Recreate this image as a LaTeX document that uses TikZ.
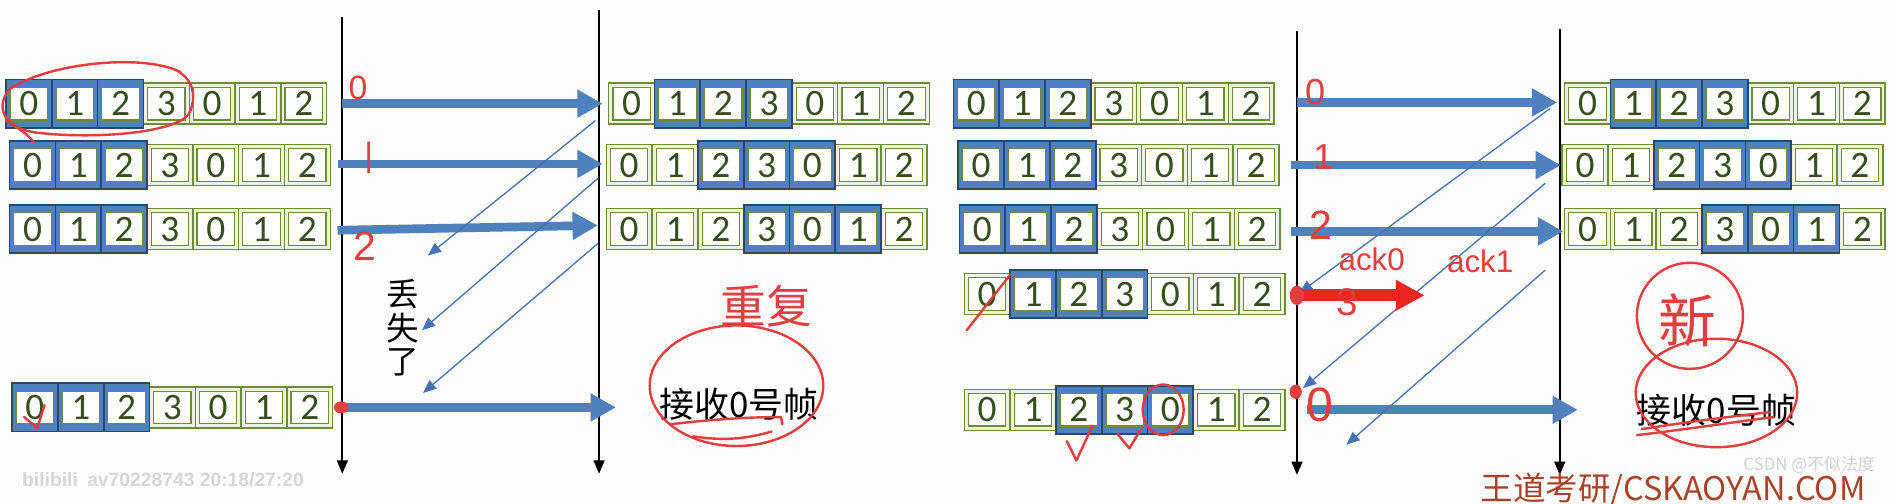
\documentclass[tikz,border=0pt]{standalone}
\usepackage{fontspec}
\setmainfont{Carlito}
\newfontfamily\cjk{Noto Sans CJK SC}
\newfontfamily\arialf{Liberation Sans}
\usetikzlibrary{arrows.meta}
\definecolor{winfill}{RGB}{79,129,189}
\definecolor{winborder}{RGB}{40,72,112}
\definecolor{cellfill}{RGB}{236,242,222}
\definecolor{olive}{RGB}{110,140,55}
\definecolor{digitc}{RGB}{55,78,28}
\definecolor{arrowblue}{RGB}{79,129,189}
\definecolor{ackblue}{RGB}{70,115,180}
\definecolor{penred}{RGB}{226,62,62}
\definecolor{bigred}{RGB}{232,40,32}
\definecolor{wmred}{RGB}{168,66,40}
\definecolor{wmgrey}{RGB}{214,214,214}
\definecolor{bgc}{RGB}{252,252,252}
\newcommand{\framerow}[4]{%
  \foreach \i in {0,...,6}{\filldraw[cellout] ({#2+38*\i},{#3-17}) rectangle +(38,34);}
  \foreach \j in {0,1,2}{\filldraw[winbox] ({#2+38*(#4+\j)},{#3-20}) rectangle +(38,40);}
  \foreach \i in {0,...,6}{\pgfmathtruncatemacro{\dg}{mod(\i,4)}\node[cellin] (#1-\i) at ({#2+38*\i+19},#3) {\dg};}
}
\begin{document}
\begin{tikzpicture}[x=0.5pt,y=-0.5pt,
  cellout/.style={fill=cellfill,draw=olive,line width=0.6pt},
  winbox/.style={fill=winfill,draw=winborder,line width=0.7pt},
  cellin/.style={draw=olive,fill=white,line width=0.5pt,minimum width=15.5pt,minimum height=13.5pt,inner sep=0pt,font=\fontsize{15.5}{15.5}\selectfont,text=digitc},
  timeline/.style={black,line width=0.7pt,-{Triangle[length=5.5pt,width=4.5pt]}},
  bigarrow/.style={arrowblue,line width=3.6pt,-{Triangle[length=10.5pt,width=11pt]}},
  ackarrow/.style={ackblue,line width=0.55pt,-{Triangle[length=5.5pt,width=4.5pt]}},
  redarrow/.style={bigred,line width=5pt,-{Triangle[length=12pt,width=12pt]}},
  pen/.style={penred,line width=1pt,line cap=round,line join=round},
  pentext/.style={text=penred,inner sep=0pt},
  cjktext/.style={font=\cjk\fontsize{14.5}{16}\selectfont,text=black,inner sep=0pt}]
\useasboundingbox (0,0) rectangle (1568,418);
\fill[bgc] (0,0) rectangle (1568,418);

% time lines
\coordinate (At) at (284,14);  \coordinate (Ab) at (284,393);
\coordinate (Bt) at (497,8);   \coordinate (Bb) at (497,393);
\coordinate (Ct) at (1076,26); \coordinate (Cb) at (1076,394);
\coordinate (Dt) at (1294,24); \coordinate (Db) at (1294,394);
\draw[timeline] (At) -- (Ab);
\draw[timeline] (Bt) -- (Bb);
\draw[timeline] (Ct) -- (Cb);
\draw[timeline] (Dt) -- (Db);

% frames
\framerow{LS1}{5}{86}{0}
\framerow{LS2}{8}{137}{0}
\framerow{LS3}{8}{190}{0}
\framerow{LS4}{10}{338}{0}
\framerow{LR1}{505}{86}{1}
\framerow{LR2}{503}{137}{2}
\framerow{LR3}{503}{190}{3}
\framerow{RS1}{791}{86}{0}
\framerow{RS2}{795}{137}{0}
\framerow{RS3}{796}{190}{0}
\framerow{RS4}{800}{244}{1}
\framerow{RS5}{800}{340}{2}
\framerow{RR1}{1298}{86}{1}
\framerow{RR2}{1296}{137}{2}
\framerow{RR3}{1298}{190}{3}

% left panel arrows
\coordinate (fL0s) at (284,86);  \coordinate (fL0e) at (500,86);
\coordinate (fL1s) at (280,136); \coordinate (fL1e) at (500,136);
\coordinate (fL2s) at (280,191); \coordinate (fL2e) at (496,187);
\coordinate (fL3s) at (287,338); \coordinate (fL3e) at (511,338);
\draw[bigarrow] (fL0s) -- (fL0e);
\draw[bigarrow] (fL1s) -- (fL1e);
\draw[bigarrow] (fL2s) -- (fL2e);
\draw[bigarrow] (fL3s) -- (fL3e);
\coordinate (aL0s) at (494,100); \coordinate (aL0e) at (355,212);
\coordinate (aL1s) at (496,148); \coordinate (aL1e) at (350,274);
\coordinate (aL2s) at (496,202); \coordinate (aL2e) at (351,326);
\draw[ackarrow] (aL0s) -- (aL0e);
\draw[ackarrow] (aL1s) -- (aL1e);
\draw[ackarrow] (aL2s) -- (aL2e);

% right panel arrows
\coordinate (fR0s) at (1076,85);  \coordinate (fR0e) at (1292,85);
\coordinate (fR1s) at (1071,137); \coordinate (fR1e) at (1295,137);
\coordinate (fR2s) at (1071,192); \coordinate (fR2e) at (1297,192);
\coordinate (fR3s) at (1084,340); \coordinate (fR3e) at (1309,340);
\draw[bigarrow] (fR0s) -- (fR0e);
\draw[bigarrow] (fR1s) -- (fR1e);
\draw[bigarrow] (fR2s) -- (fR2e);
\draw[bigarrow] (fR3s) -- (fR3e);
\coordinate (aR0s) at (1286,90);  \coordinate (aR0e) at (1078,243);
\coordinate (aR1s) at (1282,152); \coordinate (aR1e) at (1081,322);
\coordinate (aR2s) at (1282,224); \coordinate (aR2e) at (1117,369);
\draw[ackarrow] (aR0s) -- (aR0e);
\draw[ackarrow] (aR1s) -- (aR1e);
\draw[ackarrow] (aR2s) -- (aR2e);
\coordinate (rRs) at (1073,245); \coordinate (rRe) at (1182,245);
\draw[redarrow] (rRs) -- (rRe);

% printed texts
\node[cjktext,font=\cjk\fontsize{13.5}{13.8}\selectfont,align=center] (lost) at (334,272) {丢\\失\\了};
\node[cjktext] (recvL) at (613,335) {接收0号帧};
\node[cjktext] (recvR) at (1424,340) {接收0号帧};

% handwritten annotations, left panel
\draw[pen] (150,60) .. controls (120,44) and (40,52) .. (8,74)
  .. controls (-4,88) and (2,106) .. (30,110)
  .. controls (80,116) and (152,110) .. (158,92)
  .. controls (163,78) and (160,66) .. (146,58);
\draw[pen] (5,100) .. controls (14,106) and (22,110) .. (28,118);
\node[pentext,font=\arialf\fontsize{14}{14}\selectfont] (h0L) at (297,73) {0};
\node[pentext,font=\arialf\fontsize{14}{14}\selectfont] (h1L) at (306,131) {|};
\node[pentext,font=\arialf\fontsize{17}{17}\selectfont] (h2L) at (303,204) {2};
\draw[pen] (20,346) -- (31,355) -- (37,336);
\fill[penred] (283,338) ellipse (6 and 5);
\node[pentext,font=\cjk\fontsize{19}{19}\selectfont] (hL) at (636,254) {重复};
\draw[pen] (611,320) ellipse (72 and 50);
\draw[pen] (556,352) .. controls (590,348) and (620,346) .. (648,346) -- (649,352);
\draw[pen] (575,362) .. controls (600,366) and (620,364) .. (640,358);

% handwritten annotations, right panel
\node[pentext,font=\arialf\fontsize{15}{15}\selectfont] (h0R) at (1091,76) {0};
\node[pentext,font=\arialf\fontsize{15}{15}\selectfont] (h1R) at (1098,130) {1};
\node[pentext,font=\arialf\fontsize{17}{17}\selectfont] (h2R) at (1096,187) {2};
\node[pentext,font=\arialf\fontsize{13}{13}\selectfont] (ack0) at (1138,215) {ack0};
\node[pentext,font=\arialf\fontsize{13}{13}\selectfont] (ack1) at (1228,217) {ack1};
\node[pentext,font=\arialf\fontsize{16}{16}\selectfont] (h3R) at (1118,251) {3};
\fill[penred] (1076,245) ellipse (6 and 8);
\draw[pen] (802,274) -- (838,228);
\draw[pen] (885,366) -- (893,382) -- (906,354);
\draw[pen] (927,360) -- (937,372) -- (946,357);
\draw[pen] (965,340) ellipse (17 and 21);
\fill[penred] (1075,325) ellipse (5 and 6);
\node[pentext,font=\arialf\fontsize{20}{20}\selectfont] (h0b) at (1095,336) {0};
\draw[pen] (1402,262) ellipse (44 and 44);
\node[pentext,font=\cjk\fontsize{24}{24}\selectfont] (xin) at (1400,266) {新};
\draw[pen] (1424,326) ellipse (67 and 45);
\draw[pen] (1358,361) .. controls (1400,356) and (1440,350) .. (1471,346);
\draw[pen] (1362,356) .. controls (1400,350) and (1440,345) .. (1468,342);

% watermarks
\node[anchor=base west,inner sep=0pt,text=wmred,font=\cjk\fontsize{13.5}{13.5}\selectfont] (wd) at (1228,415) {王道考研/CSKAOYAN.COM};
\node[anchor=base west,inner sep=0pt,text=gray!45,opacity=0.8,font=\cjk\fontsize{7}{7}\selectfont] (csdn) at (1446,390) {CSDN @不似法度};
\node[anchor=base west,inner sep=0pt,text=wmgrey,font=\arialf\bfseries\fontsize{8}{8}\selectfont] (bili) at (18,404) {bilibili};
\node[anchor=base west,inner sep=0pt,text=wmgrey,font=\arialf\bfseries\fontsize{8}{8}\selectfont] (av) at (72,404) {av70228743 20:18/27:20};
\end{tikzpicture}
\end{document}
